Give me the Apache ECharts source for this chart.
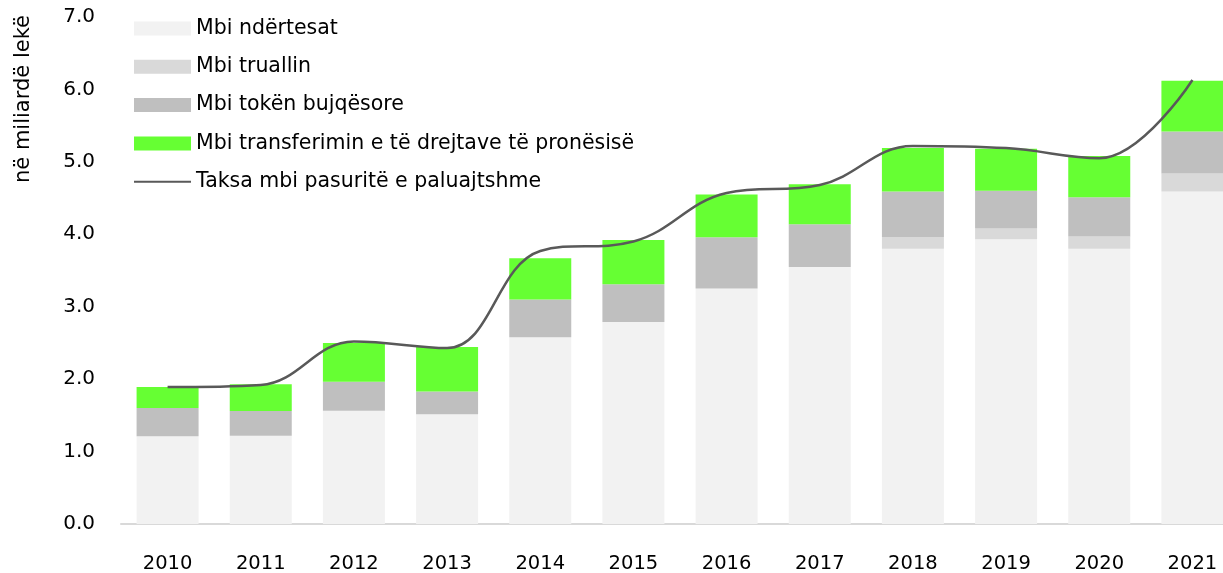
<!DOCTYPE html>
<html>
<head>
<meta charset="utf-8">
<script src="https://cdn.jsdelivr.net/npm/echarts@6/dist/echarts.min.js"></script>
<style>
  html, body { margin: 0; padding: 0; background: #fff; }
  #chart { width: 1223px; height: 573px; }
</style>
</head>
<body>
<div id="chart"></div>
<script>
// vitet
var years = ['2010', '2011', '2012', '2013', '2014', '2015', '2016', '2017', '2018', '2019', '2020', '2021'];
// komponentet e takses, ne miliarde leke
var ndertesat = [1.21, 1.22, 1.565, 1.515, 2.58, 2.79, 3.25, 3.55, 3.80, 3.93, 3.80, 4.59];
var truallin = [0, 0, 0, 0, 0, 0, 0, 0, 0.16, 0.15, 0.17, 0.25];
var toke = [0.39, 0.34, 0.40, 0.315, 0.52, 0.52, 0.71, 0.59, 0.63, 0.52, 0.54, 0.58];
var transferimi = [0.29, 0.37, 0.535, 0.615, 0.57, 0.61, 0.59, 0.55, 0.60, 0.58, 0.57, 0.70];
// totali
var taksa = [1.89, 1.92, 2.52, 2.43, 3.77, 3.90, 4.57, 4.68, 5.22, 5.19, 5.05, 6.13];
var yTicks = [0, 1, 2, 3, 4, 5, 6, 7];

var font = '"DejaVu Sans", "Noto Sans", sans-serif';

var myChart = echarts.init(document.getElementById('chart'));

function barSerie(name, data, color) {
	return {
		name: name,
		type: 'bar',
		stack: 'taksa',
		data: data,
		barWidth: 62,
		itemStyle: { color: color },
		emphasis: { disabled: true }
	};
}

var option = {
	animation: false,
	textStyle: { fontFamily: font },
	grid: { left: 121, top: 17, width: 1118, bottom: 49, outerBoundsMode: 'none', containLabel: false },
	legend: {
		orient: 'vertical',
		left: 133,
		top: 18,
		padding: 0,
		itemWidth: 57,
		itemHeight: 14,
		itemGap: 17.3,
		textStyle: { fontSize: 20.5, color: '#000', fontFamily: font },
		data: [
			{ name: 'Mbi ndërtesat', icon: 'rect' },
			{ name: 'Mbi truallin', icon: 'rect' },
			{ name: 'Mbi tokën bujqësore', icon: 'rect' },
			{ name: 'Mbi transferimin e të drejtave të pronësisë', icon: 'rect' },
			{ name: 'Taksa mbi pasuritë e paluajtshme', itemStyle: { opacity: 0 } }
		]
	},
	graphic: [{
		type: 'text',
		x: 24,
		y: 99,
		rotation: Math.PI / 2,
		style: {
			text: 'në miliardë lekë',
			font: '21px ' + font,
			fill: '#000',
			align: 'center',
			verticalAlign: 'middle'
		}
	}],
	xAxis: {
		type: 'category',
		data: years,
		axisLine: { lineStyle: { color: '#d9d9d9', width: 2 } },
		axisTick: { show: false },
		axisLabel: { fontSize: 19.5, color: '#000', margin: 30 }
	},
	yAxis: {
		type: 'value',
		min: yTicks[0],
		max: yTicks[yTicks.length - 1],
		interval: 1,
		splitLine: { show: false },
		axisLine: { show: false },
		axisTick: { show: false },
		axisLabel: {
			fontSize: 20,
			color: '#000',
			margin: 26,
			formatter: function (v) { return v.toFixed(1); }
		}
	},
	series: [
		barSerie('Mbi ndërtesat', ndertesat, '#f2f2f2'),
		barSerie('Mbi truallin', truallin, '#d9d9d9'),
		barSerie('Mbi tokën bujqësore', toke, '#bfbfbf'),
		barSerie('Mbi transferimin e të drejtave të pronësisë', transferimi, '#66ff33'),
		{
			name: 'Taksa mbi pasuritë e paluajtshme',
			type: 'line',
			data: taksa,
			smooth: 0.4,
			symbol: 'none',
			lineStyle: { color: '#595959', width: 2.5 },
			itemStyle: { color: '#595959' },
			emphasis: { disabled: true }
		}
	]
};

myChart.setOption(option);
</script>
</body>
</html>
